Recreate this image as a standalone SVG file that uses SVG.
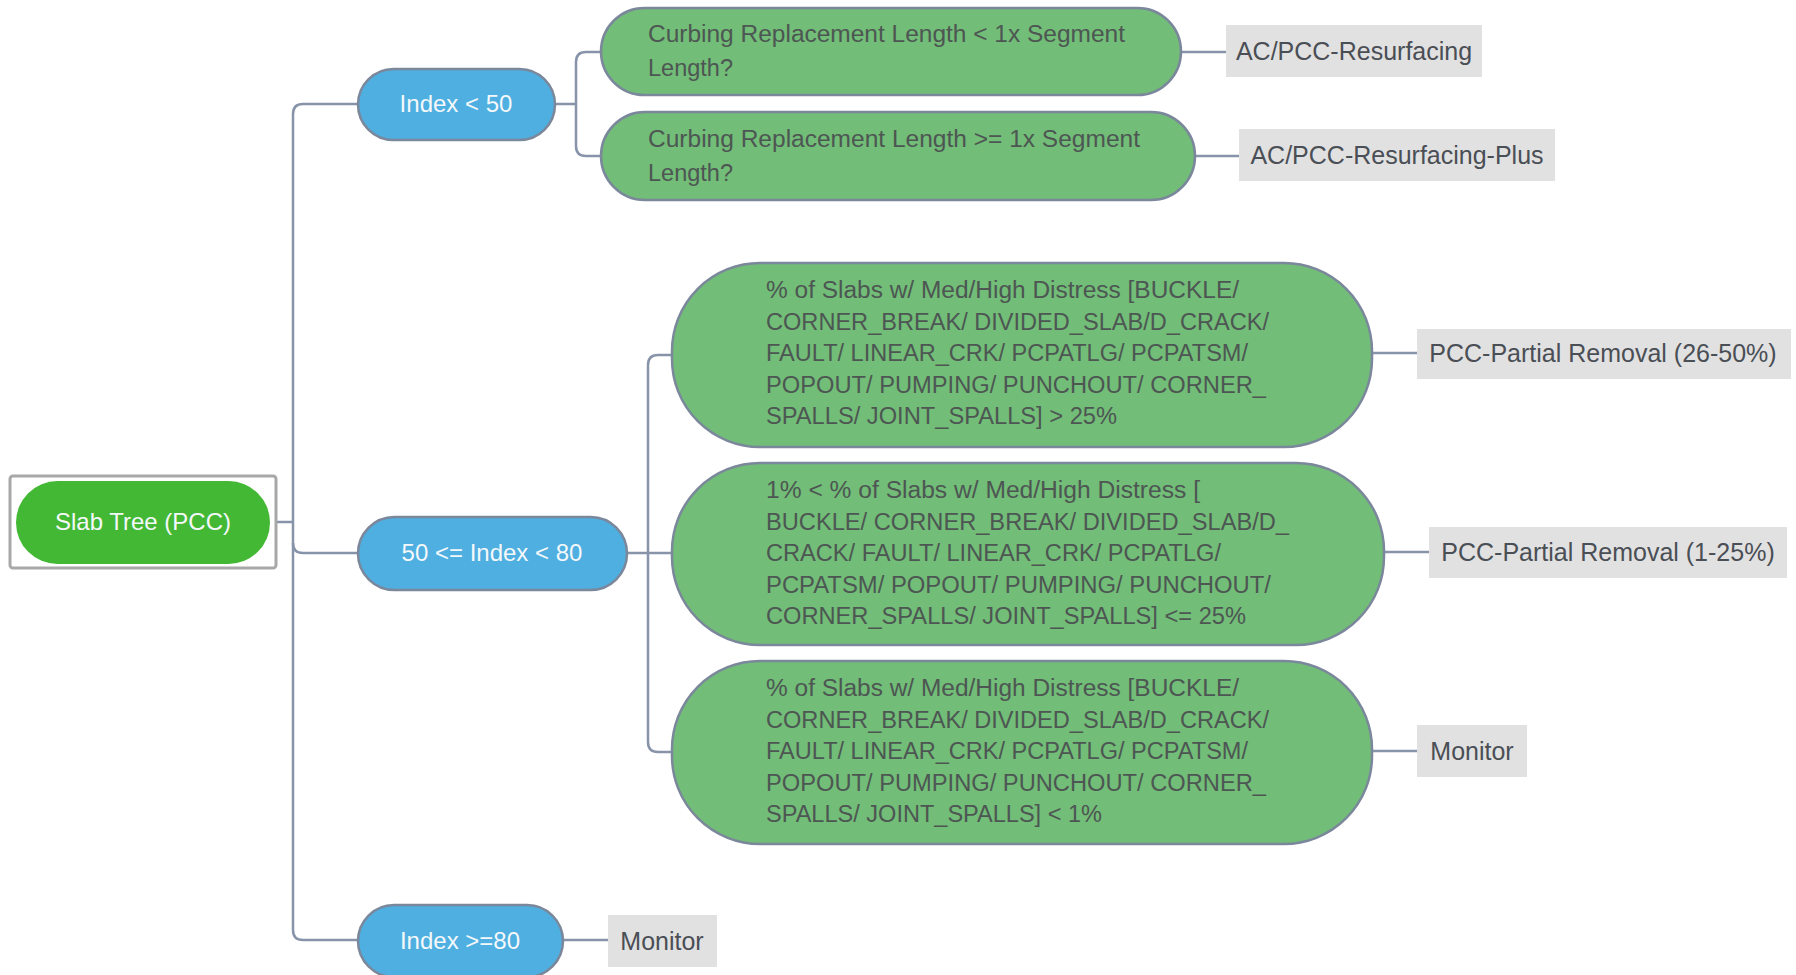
<svg xmlns="http://www.w3.org/2000/svg" width="1796" height="975" viewBox="0 0 1796 975">
  <style>
    .conn { fill: none; stroke: #8793a9; stroke-width: 2.5; }
    .blue { fill: #4eafe0; stroke: #7b879b; stroke-width: 2.5; }
    .cond { fill: #72bd77; stroke: #7b879b; stroke-width: 2.5; }
    .lbl { fill: #e1e1e1; }
    .wt { font-family: "Liberation Sans", Arial, sans-serif; font-size: 24px; fill: #f4f8fb; text-anchor: middle; }
    .ct { font-family: "Liberation Sans", Arial, sans-serif; font-size: 23.5px; fill: #4d5653; }
    .lt { font-family: "Liberation Sans", Arial, sans-serif; font-size: 25px; fill: #4a4e55; text-anchor: middle; }
  </style>
  <rect width="1796" height="975" fill="#ffffff"/>

  <!-- connectors -->
  <g id="connectors">
    <path class="conn" d="M270 522 H293"/>
    <path class="conn" d="M358 104 H303 Q293 104 293 114 V930 Q293 940 303 940 H358"/>
    <path class="conn" d="M293 543 Q293 553 303 553 H358"/>
    <path class="conn" d="M555 104 H576"/>
    <path class="conn" d="M601 52 H586 Q576 52 576 62 V146 Q576 156 586 156 H601"/>
    <path class="conn" d="M1181 52 H1226"/>
    <path class="conn" d="M1195 156 H1239"/>
    <path class="conn" d="M627 553 H672"/>
    <path class="conn" d="M672 355 H658 Q648 355 648 365 V742 Q648 752 658 752 H672"/>
    <path class="conn" d="M1372 353 H1417"/>
    <path class="conn" d="M1384 552 H1429"/>
    <path class="conn" d="M1372 751 H1417"/>
    <path class="conn" d="M563 940 H608"/>
  </g>

  <!-- root -->
  <g id="root">
    <rect x="10" y="476" width="266" height="92" rx="3" fill="#ffffff" stroke="#a8a8a8" stroke-width="3"/>
    <rect x="16" y="481" width="254" height="83" rx="41.5" fill="#43b834"/>
    <text class="wt" x="143" y="530" font-size="23">Slab Tree (PCC)</text>
  </g>

  <g id="idx-lt-50">
    <rect class="blue" x="358" y="69" width="197" height="71" rx="35.5"/>
    <text class="wt" x="456" y="112">Index &lt; 50</text>
  </g>

  <g id="curb-lt">
    <rect class="cond" x="601" y="8" width="580" height="87" rx="43.5"/>
    <text class="ct" x="648" y="42" textLength="477" lengthAdjust="spacingAndGlyphs">Curbing Replacement Length &lt; 1x Segment</text>
    <text class="ct" x="648" y="76">Length?</text>
  </g>

  <g id="curb-ge">
    <rect class="cond" x="601" y="112" width="594" height="88" rx="44"/>
    <text class="ct" x="648" y="147" textLength="492" lengthAdjust="spacingAndGlyphs">Curbing Replacement Length &gt;= 1x Segment</text>
    <text class="ct" x="648" y="181">Length?</text>
  </g>

  <g id="res">
    <rect class="lbl" x="1226" y="25" width="256" height="52"/>
    <text class="lt" x="1354" y="60">AC/PCC-Resurfacing</text>
  </g>

  <g id="res-plus">
    <rect class="lbl" x="1239" y="129" width="316" height="52"/>
    <text class="lt" x="1397" y="164">AC/PCC-Resurfacing-Plus</text>
  </g>

  <g id="idx-50-80">
    <rect class="blue" x="358" y="517" width="269" height="73" rx="36.5"/>
    <text class="wt" x="492" y="561">50 &lt;= Index &lt; 80</text>
  </g>

  <g id="slab-gt-25">
    <rect class="cond" x="672" y="263" width="700" height="184" rx="88"/>
    <text class="ct" x="766" y="298" textLength="473" lengthAdjust="spacingAndGlyphs">% of Slabs w/ Med/High Distress [BUCKLE/</text>
    <text class="ct" x="766" y="329.5" textLength="503" lengthAdjust="spacingAndGlyphs">CORNER_BREAK/ DIVIDED_SLAB/D_CRACK/</text>
    <text class="ct" x="766" y="361" textLength="482" lengthAdjust="spacingAndGlyphs">FAULT/ LINEAR_CRK/ PCPATLG/ PCPATSM/</text>
    <text class="ct" x="766" y="392.5" textLength="500" lengthAdjust="spacingAndGlyphs">POPOUT/ PUMPING/ PUNCHOUT/ CORNER_</text>
    <text class="ct" x="766" y="424" textLength="351" lengthAdjust="spacingAndGlyphs">SPALLS/ JOINT_SPALLS] &gt; 25%</text>
  </g>

  <g id="slab-1-25">
    <rect class="cond" x="672" y="463" width="712" height="182" rx="88"/>
    <text class="ct" x="766" y="498" textLength="434" lengthAdjust="spacingAndGlyphs">1% &lt; % of Slabs w/ Med/High Distress [</text>
    <text class="ct" x="766" y="529.5" textLength="523" lengthAdjust="spacingAndGlyphs">BUCKLE/ CORNER_BREAK/ DIVIDED_SLAB/D_</text>
    <text class="ct" x="766" y="561" textLength="455" lengthAdjust="spacingAndGlyphs">CRACK/ FAULT/ LINEAR_CRK/ PCPATLG/</text>
    <text class="ct" x="766" y="592.5" textLength="505" lengthAdjust="spacingAndGlyphs">PCPATSM/ POPOUT/ PUMPING/ PUNCHOUT/</text>
    <text class="ct" x="766" y="624" textLength="480" lengthAdjust="spacingAndGlyphs">CORNER_SPALLS/ JOINT_SPALLS] &lt;= 25%</text>
  </g>

  <g id="slab-lt-1">
    <rect class="cond" x="672" y="661" width="700" height="183" rx="88"/>
    <text class="ct" x="766" y="696" textLength="473" lengthAdjust="spacingAndGlyphs">% of Slabs w/ Med/High Distress [BUCKLE/</text>
    <text class="ct" x="766" y="727.5" textLength="503" lengthAdjust="spacingAndGlyphs">CORNER_BREAK/ DIVIDED_SLAB/D_CRACK/</text>
    <text class="ct" x="766" y="759" textLength="482" lengthAdjust="spacingAndGlyphs">FAULT/ LINEAR_CRK/ PCPATLG/ PCPATSM/</text>
    <text class="ct" x="766" y="790.5" textLength="500" lengthAdjust="spacingAndGlyphs">POPOUT/ PUMPING/ PUNCHOUT/ CORNER_</text>
    <text class="ct" x="766" y="822" textLength="336" lengthAdjust="spacingAndGlyphs">SPALLS/ JOINT_SPALLS] &lt; 1%</text>
  </g>

  <g id="partial-26-50">
    <rect class="lbl" x="1417" y="329" width="374" height="50"/>
    <text class="lt" x="1603" y="362">PCC-Partial Removal (26-50%)</text>
  </g>

  <g id="partial-1-25">
    <rect class="lbl" x="1429" y="527" width="358" height="51"/>
    <text class="lt" x="1608" y="561">PCC-Partial Removal (1-25%)</text>
  </g>

  <g id="monitor-mid">
    <rect class="lbl" x="1417" y="725" width="110" height="52"/>
    <text class="lt" x="1472" y="760">Monitor</text>
  </g>

  <g id="idx-ge-80">
    <rect class="blue" x="358" y="905" width="205" height="72" rx="36"/>
    <text class="wt" x="460" y="949">Index &gt;=80</text>
  </g>

  <g id="monitor-low">
    <rect class="lbl" x="608" y="915" width="109" height="52"/>
    <text class="lt" x="662" y="950">Monitor</text>
  </g>
</svg>
